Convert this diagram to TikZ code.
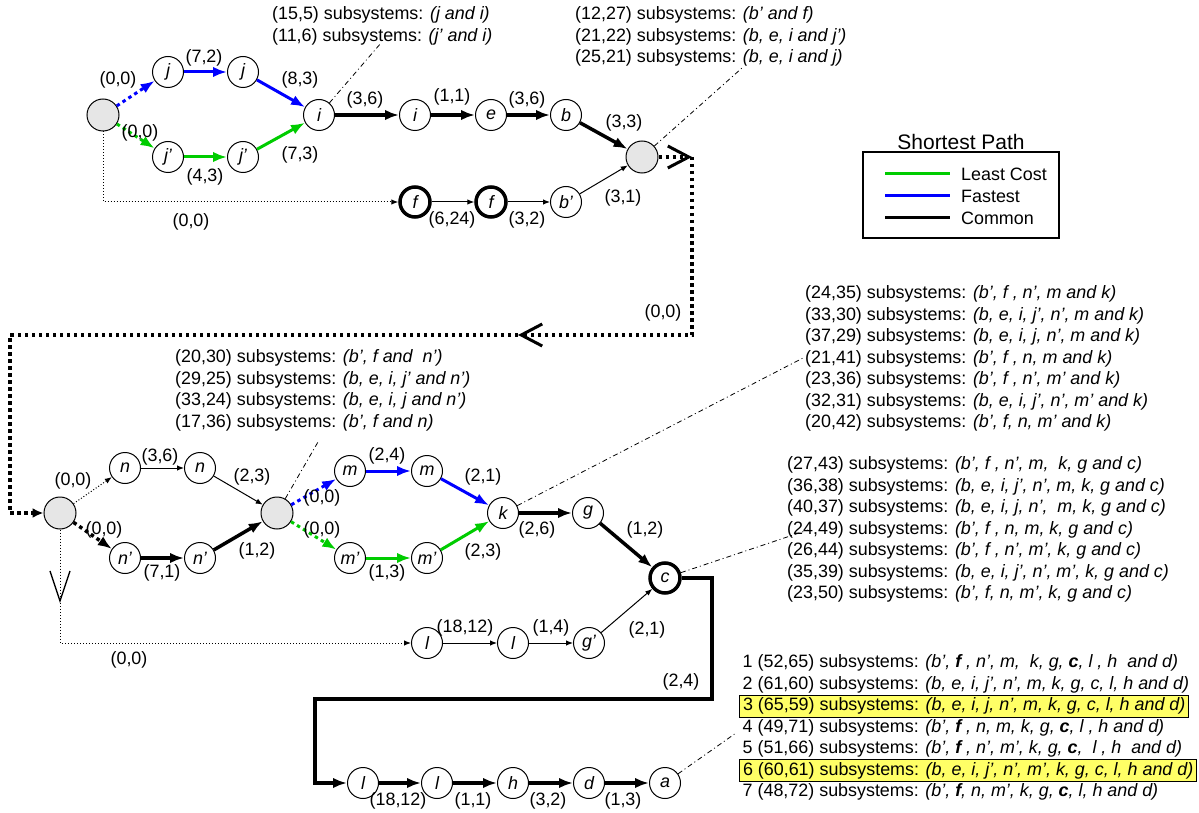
\documentclass[tikz,border=0pt]{standalone}
\usepackage{fontspec}
\setmainfont{Liberation Sans}
\usetikzlibrary{arrows.meta}

\definecolor{fastblue}{RGB}{0,0,255}
\definecolor{cheapgreen}{RGB}{0,204,0}
\definecolor{hubgray}{RGB}{230,230,230}
\definecolor{hlyellow}{RGB}{255,255,102}

\tikzset{
	nd/.style={circle, draw, line width=1pt, minimum size=31pt, inner sep=0pt, font=\fontsize{17.9}{21.5}\selectfont\itshape},
	hub/.style={nd, fill=hubgray, minimum size=32pt},
	fatnd/.style={nd, line width=3.5pt, minimum size=30pt},
	big tip/.style={-{Latex[length=14pt, width=10.5pt]}},
	small tip/.style={-{Latex[length=7pt, width=5.5pt]}},
	fast/.style={draw=fastblue, line width=3pt, big tip},
	cheap/.style={draw=cheapgreen, line width=3pt, big tip},
	common/.style={draw=black, line width=3.5pt, big tip},
	thinline/.style={draw=black, line width=1pt, small tip},
	bigdots/.style={dash pattern=on 3.5pt off 3.5pt},
	smalldots/.style={dash pattern=on 1pt off 2pt},
	route/.style={draw=black, line width=3.5pt, bigdots},
	leader/.style={draw=black, line width=0.8pt, dash pattern=on 5pt off 3pt on 1pt off 3pt},
	wt/.style={inner sep=0pt},
	listtxt/.style={align=left, anchor=north west, inner sep=0pt},
	pathrow/.style={anchor=west, inner xsep=3.5pt, inner ysep=0pt, minimum height=22pt},
	hl/.style={pathrow, draw, line width=1pt, fill=hlyellow},
}

\begin{document}
\begin{tikzpicture}[x=1pt, y=-1pt, every node/.style={font=\fontsize{17.9}{21.5}\selectfont}]
	\useasboundingbox (0,0) rectangle (1199,813);

	% 上层节点
	\node[hub] (S1) at (103,115) {};
	\node[nd] (j1) at (168,72) {j};
	\node[nd] (j2) at (243,72) {j};
	\node[nd] (jp1) at (168,157) {j’};
	\node[nd] (jp2) at (243,157) {j’};
	\node[nd] (i1) at (319,115) {i};
	\node[nd] (i2) at (415,115) {i};
	\node[nd] (e) at (491,115) {e};
	\node[nd] (b) at (566,115) {b};
	\node[hub] (S2) at (642,157) {};
	\node[fatnd] (f1) at (415,202) {f};
	\node[fatnd] (f2) at (491,202) {f};
	\node[nd] (bp) at (566,202) {b’};

	% 上层连线
	\draw[fast, bigdots] (S1) -- (j1);
	\draw[fast] (j1) -- (j2);
	\draw[fast] (j2) -- (i1);
	\draw[cheap, bigdots] (S1) -- (jp1);
	\draw[cheap] (jp1) -- (jp2);
	\draw[cheap] (jp2) -- (i1);
	\draw[common] (i1) -- (i2);
	\draw[common] (i2) -- (e);
	\draw[common] (e) -- (b);
	\draw[common] (b) -- (S2);
	\draw[thinline, smalldots] (S1) |- (f1);
	\draw[thinline] (f1) -- (f2);
	\draw[thinline] (f2) -- (bp);
	\draw[thinline] (bp) -- (S2);

	% 上层权值
	\node (wa1) at (118,80) {(0,0)};
	\node (wa2) at (204,58) {(7,2)};
	\node (wa3) at (300,80) {(8,3)};
	\node (wa4) at (140,133) {(0,0)};
	\node (wa5) at (205,177) {(4,3)};
	\node (wa6) at (300,155) {(7,3)};
	\node (wa7) at (365,100) {(3,6)};
	\node (wa8) at (452,97) {(1,1)};
	\node (wa9) at (527,100) {(3,6)};
	\node (wa10) at (624,123) {(3,3)};
	\node (wa11) at (623,198) {(3,1)};
	\node (wa12) at (452,220) {(6,24)};
	\node (wa13) at (527,220) {(3,2)};
	\node (wa14) at (191,222) {(0,0)};
	\node (wa15) at (663,313) {(0,0)};

	% 过渡路线 (粗点线)
	\coordinate (rA) at (692,157);
	\coordinate (rB) at (692,335);
	\coordinate (rC) at (518,335);
	\coordinate (rD) at (10,335);

	% 中层节点
	\node[hub] (S3) at (60,513) {};
	\node[nd] (n1) at (125,468) {n};
	\node[nd] (n2) at (200,468) {n};
	\node[nd] (np1) at (125,558) {n’};
	\node[nd] (np2) at (200,558) {n’};
	\node[hub] (S4) at (277,513) {};
	\node[nd] (m1) at (350,471) {m};
	\node[nd] (m2) at (427,471) {m};
	\node[nd] (mp1) at (350,558) {m’};
	\node[nd] (mp2) at (427,558) {m’};
	\node[nd] (k) at (503,513) {k};
	\node[nd] (g) at (588,513) {g};
	\node[fatnd] (c) at (665,578) {c};
	\node[nd] (l1) at (427,643) {l};
	\node[nd] (l2) at (513,643) {l};
	\node[nd] (gp) at (589,643) {g’};

	\draw[route, -{Straight Barb[length=21pt, width=22pt, line width=3pt]}] (S2) -- (rA);
	\draw[route, -{Straight Barb[length=21pt, width=22pt, line width=3pt]}] (rA) -- (rB) -- (rC);
	\draw[route, -{Latex[length=11pt, width=10pt]}] (rC) -- (rD) |- (S3);

	% 中层连线
	\draw[thinline, smalldots] (S3) -- (n1);
	\draw[common, bigdots] (S3) -- (np1);
	\draw[thinline] (n1) -- (n2);
	\draw[thinline] (n2) -- (S4);
	\draw[common] (np1) -- (np2);
	\draw[common] (np2) -- (S4);
	\draw[fast, bigdots] (S4) -- (m1);
	\draw[cheap, bigdots] (S4) -- (mp1);
	\draw[fast] (m1) -- (m2);
	\draw[fast] (m2) -- (k);
	\draw[cheap] (mp1) -- (mp2);
	\draw[cheap] (mp2) -- (k);
	\draw[common] (k) -- (g);
	\draw[common] (g) -- (c);
	\coordinate (vA) at (60,603);
	\draw[thinline, smalldots, -{Straight Barb[length=30pt, width=20pt, line width=1.3pt]}] (S3) -- (vA);
	\draw[thinline, smalldots] (vA) |- (l1);
	\draw[thinline] (l1) -- (l2);
	\draw[thinline] (l2) -- (gp);
	\draw[thinline] (gp) -- (c);

	% 中层权值
	\node (wb1) at (73,481) {(0,0)};
	\node (wb2) at (104,530) {(0,0)};
	\node (wb3) at (160,457) {(3,6)};
	\node (wb4) at (252,477) {(2,3)};
	\node (wb5) at (162,573) {(7,1)};
	\node (wb6) at (257,551) {(1,2)};
	\node (wb7) at (322,498) {(0,0)};
	\node (wb8) at (322,530) {(0,0)};
	\node (wb9) at (387,456) {(2,4)};
	\node (wb10) at (387,573) {(1,3)};
	\node (wb11) at (483,477) {(2,1)};
	\node (wb12) at (483,552) {(2,3)};
	\node (wb13) at (537,530) {(2,6)};
	\node (wb14) at (645,530) {(1,2)};
	\node (wb15) at (465,628) {(18,12)};
	\node (wb16) at (551,628) {(1,4)};
	\node (wb17) at (647,630) {(2,1)};
	\node (wb18) at (129,660) {(0,0)};
	\node (wb19) at (681,682) {(2,4)};

	% 下层节点
	\node[nd] (l3) at (363,783) {l};
	\node[nd] (l4) at (437,783) {l};
	\node[nd] (h) at (513,783) {h};
	\node[nd] (d) at (589,783) {d};
	\node[nd] (a) at (665,783) {a};

	\coordinate (cA) at (712,699);
	\coordinate (cB) at (315,699);
	\draw[common, line width=4pt] (c) -| (cA) -- (cB) |- (l3);
	\draw[common, line width=4pt] (l3) -- (l4);
	\draw[common, line width=4pt] (l4) -- (h);
	\draw[common, line width=4pt] (h) -- (d);
	\draw[common, line width=4pt] (d) -- (a);

	\node (wc1) at (398,801) {(18,12)};
	\node (wc2) at (473,801) {(1,1)};
	\node (wc3) at (548,801) {(3,2)};
	\node (wc4) at (623,801) {(1,3)};

	% 引线
	\coordinate (ldA) at (381,43);
	\coordinate (ldB) at (742,68);
	\coordinate (ldC) at (318,442);
	\coordinate (ldD) at (803,358);
	\coordinate (ldE) at (808,530);
	\coordinate (ldF) at (736,733);
	\draw[leader] (i1) -- (ldA);
	\draw[leader] (S2) -- (ldB);
	\draw[leader] (S4) -- (ldC);
	\draw[leader] (k) -- (ldD);
	\draw[leader] (c) -- (ldE);
	\draw[leader] (a) -- (ldF);

	% 子系统说明
	\node[listtxt] (subA) at (272,6.7) {(15,5) subsystems: \textit{(j and i)}\\(11,6) subsystems: \textit{(j’ and i)}};
	\node[listtxt] (subB) at (575,6.7) {(12,27) subsystems: \textit{(b’ and f)}\\(21,22) subsystems: \textit{(b, e, i and j’)}\\(25,21) subsystems: \textit{(b, e, i and j)}};
	\node[listtxt] (subC) at (175,349.7) {(20,30) subsystems: \textit{(b’, f and\ \ n’)}\\(29,25) subsystems: \textit{(b, e, i, j’ and n’)}\\(33,24) subsystems: \textit{(b, e, i, j and n’)}\\(17,36) subsystems: \textit{(b’, f and n)}};
	\node[listtxt] (subD) at (805,285.7) {(24,35) subsystems: \textit{(b’, f , n’, m and k)}\\(33,30) subsystems: \textit{(b, e, i, j’, n’, m and k)}\\(37,29) subsystems: \textit{(b, e, i, j, n’, m and k)}\\(21,41) subsystems: \textit{(b’, f , n, m and k)}\\(23,36) subsystems: \textit{(b’, f , n’, m’ and k)}\\(32,31) subsystems: \textit{(b, e, i, j’, n’, m’ and k)}\\(20,42) subsystems: \textit{(b’, f, n, m’ and k)}};
	\node[listtxt] (subE) at (787,456.7) {(27,43) subsystems: \textit{(b’, f , n’, m,\ \ k, g and c)}\\(36,38) subsystems: \textit{(b, e, i, j’, n’, m, k, g and c)}\\(40,37) subsystems: \textit{(b, e, i, j, n’,\ \ m, k, g and c)}\\(24,49) subsystems: \textit{(b’, f , n, m, k, g and c)}\\(26,44) subsystems: \textit{(b’, f , n’, m’, k, g and c)}\\(35,39) subsystems: \textit{(b, e, i, j’, n’, m’, k, g and c)}\\(23,50) subsystems: \textit{(b’, f, n, m’, k, g and c)}};

	% 完整路径 (高亮为最短)
	\node[pathrow] (p1) at (739,663) {1 (52,65) subsystems: \textit{(b’, \textbf{f} , n’, m,\ \ k, g, \textbf{c}, l , h\ \ and d)}};
	\node[pathrow] (p2) at (739,684.5) {2 (61,60) subsystems: \textit{(b, e, i, j’, n’, m, k, g, c, l, h and d)}};
	\node[hl] (p3) at (739,706) {3 (65,59) subsystems: \textit{(b, e, i, j, n’, m, k, g, c, l, h and d)}};
	\node[pathrow] (p4) at (739,727.5) {4 (49,71) subsystems: \textit{(b’, \textbf{f} , n, m, k, g, \textbf{c}, l , h and d)}};
	\node[pathrow] (p5) at (739,749) {5 (51,66) subsystems: \textit{(b’, \textbf{f} , n’, m’, k, g, \textbf{c},\ \ l , h\ \ and d)}};
	\node[hl] (p6) at (739,770.5) {6 (60,61) subsystems: \textit{(b, e, i, j’, n’, m’, k, g, c, l, h and d)}};
	\node[pathrow] (p7) at (739,792) {7 (48,72) subsystems: \textit{(b’, \textbf{f}, n, m’, k, g, \textbf{c}, l, h and d)}};

	% 图例
	\node[draw, line width=1.2pt, minimum width=196pt, minimum height=86pt, inner sep=0pt] (legend) at (961,195) {};
	\node[font=\fontsize{21}{25}\selectfont] (legtitle) at (961,142) {Shortest Path};
	\coordinate (lgA) at (885,174);
	\coordinate (lgB) at (885,196);
	\coordinate (lgC) at (885,218);
	\draw[cheapgreen, line width=3pt] (lgA) -- ++(65,0);
	\draw[fastblue, line width=3pt] (lgB) -- ++(65,0);
	\draw[black, line width=3pt] (lgC) -- ++(65,0);
	\node[wt, anchor=west] (lgtA) at (961,174) {Least Cost};
	\node[wt, anchor=west] (lgtB) at (961,196) {Fastest};
	\node[wt, anchor=west] (lgtC) at (961,218) {Common};
\end{tikzpicture}
\end{document}
